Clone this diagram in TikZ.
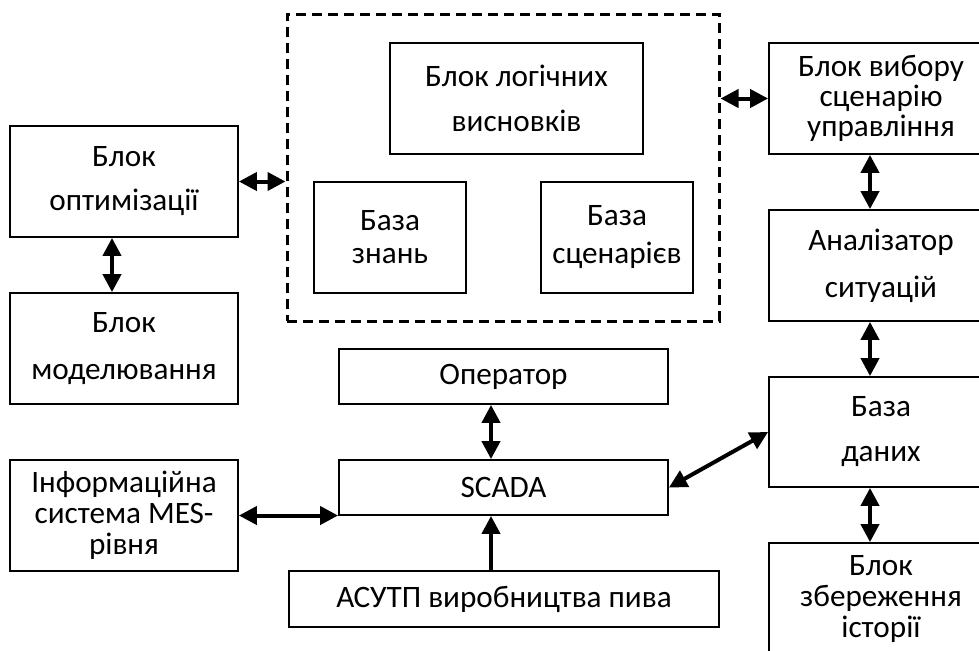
\documentclass[tikz,border=0pt]{standalone}
\usepackage{fontspec}
\setmainfont{Carlito}
\usetikzlibrary{arrows.meta}

\begin{document}
\begin{tikzpicture}[x=0.5pt,y=-0.5pt,>={Triangle[length=9pt,width=9pt]},link/.style={<->,line width=2pt},block/.style={draw,line width=0.9pt,align=center,inner sep=0pt,font=\fontsize{15.6}{#1}\selectfont},block/.default=22pt]

                \clip (0,0) rectangle (979,650);

                % knowledge part
                \node[draw,dashed,dash pattern=on 5pt off 3pt,line width=1.5pt,minimum width=216pt,minimum height=153.5pt] (kbase) at (503,167.5) {};
                \node[block=22.5pt] (logic) [minimum width=126.5pt,minimum height=55.5pt] at (516.5,98.5) {Блок логічних\\висновків};
                \node[block=16.5pt] (know) [minimum width=76pt,minimum height=55.5pt] at (390,237.5) {База\\знань};
                \node[block=19pt] (scen) [minimum width=76pt,minimum height=55.5pt] at (617,237.5) {База\\сценарієв};

                % left column
                \node[block=22pt] (opt) [minimum width=114pt,minimum height=55.5pt] at (124,181.5) {Блок\\оптимізації};
                \node[block=23.5pt] (model) [minimum width=114pt,minimum height=55.5pt] at (124,348.5) {Блок\\моделювання};
                \node[block=15.5pt] (info) [minimum width=114pt,minimum height=55.5pt] at (124,515.5) {Інформаційна\\система MES-\\рівня};

                % middle column
                \node[block] (oper) [minimum width=164.5pt,minimum height=27.5pt] at (503.5,376.5) {Оператор};
                \node[block] (scada) [minimum width=164.5pt,minimum height=27.5pt] at (503.5,487.5) {SCADA};
                \node[block] (asutp) [minimum width=215pt,minimum height=28pt] at (504,599) {АСУТП виробництва пива};

                % right column
                \node[block=15pt] (choice) [minimum width=112pt,minimum height=55.5pt] at (881,98.5) {Блок вибору\\сценарію\\управління};
                \node[block=23.5pt] (anal) [minimum width=112pt,minimum height=55.5pt] at (881,265.5) {Аналізатор\\ситуацій};
                \node[block=22.5pt] (db) [minimum width=112pt,minimum height=55pt] at (881,432) {База\\даних};
                \node[block=15.5pt] (hist) [minimum width=112pt,minimum height=55.5pt] at (881,598.5) {Блок\\збереження\\історії};

                \coordinate (lx) at (112,0);
                \coordinate (mx) at (491,0);
                \coordinate (rx) at (870,0);

                \draw[link] (opt.east) to (kbase.west |- opt.east);
                \draw[link] (kbase.east |- choice.west) to (choice.west);
                \draw[link] (opt.south -| lx) to (model.north -| lx);
                \draw[link] (info.east) to (scada.west |- info.east);
                \draw[link] (oper.south -| mx) to (scada.north -| mx);
                \draw[->,line width=2pt] (asutp.north -| mx) to (scada.south -| mx);
                \draw[link] (scada.east) to (db.west);
                \draw[link] (choice.south -| rx) to (anal.north -| rx);
                \draw[link] (anal.south -| rx) to (db.north -| rx);
                \draw[link] (db.south -| rx) to (hist.north -| rx);

                ;
            \end{tikzpicture}
\end{document}
